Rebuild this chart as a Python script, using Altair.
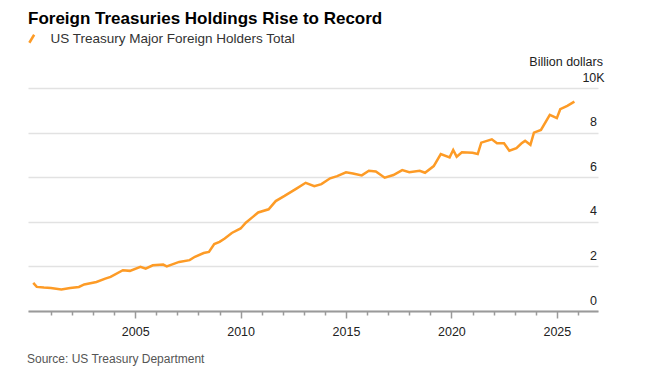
import altair as alt
import pandas as pd

dates = [
    "2000-03", "2000-05", "2000-09", "2001-01", "2001-07", "2001-12", "2002-05", "2002-08",
    "2003-03", "2003-08", "2003-11", "2004-06", "2004-10", "2005-04", "2005-07", "2005-11",
    "2006-05", "2006-07", "2007-02", "2007-08", "2007-11", "2008-04", "2008-07", "2008-10",
    "2009-01", "2009-04", "2009-08", "2010-01", "2010-04", "2010-08", "2010-11", "2011-05",
    "2011-09", "2012-02", "2012-09", "2013-02", "2013-07", "2013-11", "2014-04", "2014-08",
    "2015-01", "2015-05", "2015-10", "2016-02", "2016-06", "2016-11", "2017-04", "2017-09",
    "2018-01", "2018-07", "2018-10", "2019-03", "2019-07", "2019-12", "2020-02", "2020-04",
    "2020-07", "2021-01", "2021-04", "2021-06", "2021-12", "2022-03", "2022-07", "2022-10",
    "2023-02", "2023-05", "2023-07", "2023-10", "2023-12", "2024-04", "2024-09", "2025-01",
    "2025-03", "2025-07", "2025-11",
]
values = [
    1260, 1080, 1050, 1030, 970, 1030, 1080, 1190,
    1300, 1450, 1530, 1830, 1800, 1980, 1900, 2050,
    2080, 2000, 2200, 2280, 2430, 2600, 2650, 3000,
    3100, 3250, 3500, 3700, 3960, 4220, 4420, 4560,
    4930, 5160, 5500, 5750, 5600, 5690, 5950, 6050,
    6220, 6170, 6080, 6290, 6260, 5980, 6100, 6320,
    6220, 6290, 6200, 6500, 7040, 6890, 7220, 6920,
    7120, 7100, 7040, 7550, 7700, 7520, 7520, 7190,
    7300, 7520, 7630, 7450, 8000, 8120, 8800, 8650,
    9050, 9200, 9390,
]
series_name = "US Treasury Major Foreign Holders Total"
y_ticks = [0, 2000, 4000, 6000, 8000, 10000]
x_tick_years = list(range(2001, 2027))

title_text = "Foreign Treasuries Holdings Rise to Record"
unit_text = "Billion dollars"
source_text = "Source: US Treasury Department"

FONT = "Liberation Sans"
ORANGE = "#fd9b26"

df = pd.DataFrame({"date": dates, "value": values, "series": series_name})

line = alt.Chart(df).mark_line(strokeWidth=2.5, interpolate="linear").encode(
    x=alt.X(
        "date:T",
        scale=alt.Scale(domain=[alt.DateTime(year=1999, month=12, date=1),
                                alt.DateTime(year=2026, month=12, date=15)]),
        axis=alt.Axis(
            title=None,
            values=[alt.DateTime(year=y, month=1, date=1) for y in x_tick_years],
            labelExpr="year(datum.value) % 5 == 0 ? timeFormat(datum.value, '%Y') : ''",
            grid=False,
            domainColor="#9a9a9a",
            domainWidth=2,
            tickColor="#9a9a9a",
            tickWidth=1.5,
            tickSize={"condition": {"test": "year(datum.value) % 5 == 0", "value": 7}, "value": 4},
            labelPadding=7,
            labelFont=FONT,
            labelFontSize=12.5,
            labelColor="#222222",
            labelFlush=False,
        ),
    ),
    y=alt.Y(
        "value:Q",
        scale=alt.Scale(domain=[0, 10000]),
        axis=alt.Axis(
            title=None,
            orient="right",
            values=y_ticks,
            labelExpr="datum.value == 10000 ? '10K' : format(datum.value / 1000, 'd')",
            grid=True,
            gridColor="#e2e2e2",
            gridWidth=1.5,
            domain=False,
            ticks=False,
            tickSize=0,
            labelPadding=-5,
            labelAlign="center",
            labelBaseline="alphabetic",
            labelOffset=-7,
            labelFont=FONT,
            labelFontSize=12.5,
            labelColor="#222222",
        ),
    ),
    color=alt.Color(
        "series:N",
        scale=alt.Scale(range=[ORANGE]),
        legend=alt.Legend(
            title=None,
            orient="none",
            legendX=-3,
            legendY=-56,
            padding=0,
            symbolType="M-0.6,1L0.6,-1",
            symbolSize=64,
            symbolStrokeWidth=2.5,
            labelOffset=12,
            labelFont=FONT,
            labelFontSize=13.5,
            labelColor="#333333",
            labelLimit=400,
        ),
    ),
)

title = alt.Chart(pd.DataFrame({"t": [title_text]})).mark_text(
    font=FONT, fontSize=17, fontWeight="bold", align="left", baseline="alphabetic", color="#000000"
).encode(text="t:N", x=alt.value(0), y=alt.value(-64.5))

unit = alt.Chart(pd.DataFrame({"t": [unit_text]})).mark_text(
    font=FONT, fontSize=12.5, align="right", baseline="middle", color="#222222"
).encode(text="t:N", x=alt.value(575), y=alt.value(-26))

source = alt.Chart(pd.DataFrame({"t": [source_text]})).mark_text(
    font=FONT, fontSize=12, align="left", baseline="alphabetic", color="#555555"
).encode(text="t:N", x=alt.value(-1), y=alt.value(275))

chart = alt.layer(line, title, unit, source).properties(
    width=570,
    height=223,
    autosize=alt.AutoSizeParams(type="none"),
    padding={"left": 20, "top": 80, "right": 46, "bottom": 66},
    background="#ffffff",
).configure_view(stroke=None)

chart.save("out.html", embed_options={"renderer": "svg", "actions": False})
